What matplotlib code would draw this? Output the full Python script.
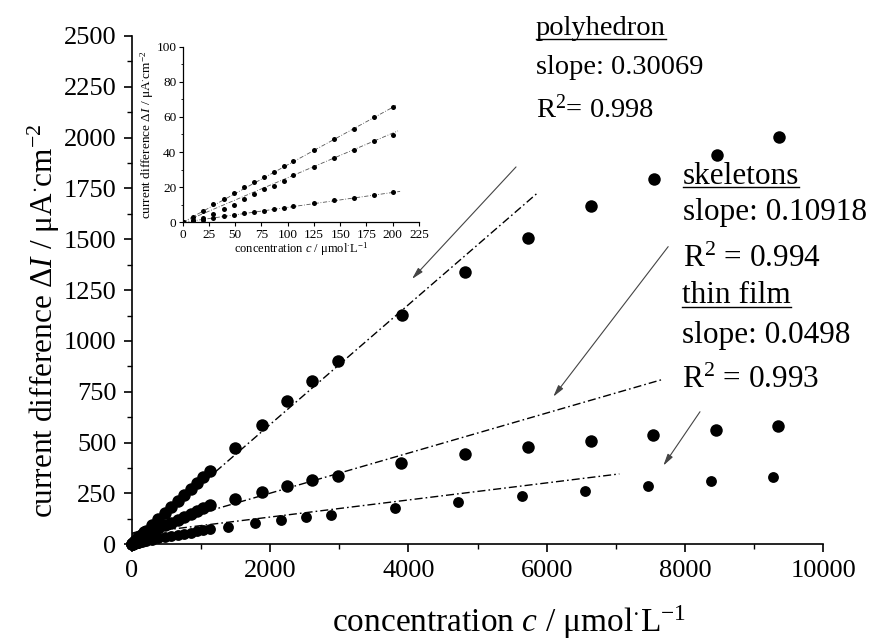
import matplotlib
matplotlib.use("Agg")
import matplotlib.pyplot as plt
from matplotlib.lines import Line2D

plt.rcParams['font.family'] = ['Liberation Serif', 'DejaVu Serif']
plt.rcParams['mathtext.fontset'] = 'custom'
plt.rcParams['mathtext.rm'] = 'Liberation Serif'
plt.rcParams['mathtext.it'] = 'Liberation Serif:italic'
plt.rcParams['mathtext.bf'] = 'Liberation Serif:bold'

# ---------------- data (main plot) ----------------
dense_x = [0, 10, 19, 29, 38, 48, 57, 67, 76, 86, 96, 105, 124, 143, 163, 182, 200,
           293, 386, 479, 572, 665, 758, 851, 944, 1037, 1132]
poly_x = dense_x + [1494, 1880, 2241, 2603, 2979, 3904, 4819, 5735, 6641, 7557, 8459, 9360]
poly_y = [0, 3, 6.6, 10, 13, 16.5, 20, 23, 26, 29, 32, 35, 41, 47, 53, 60, 65.5,
          95, 125, 155, 185, 214, 244, 273, 303, 332, 362] + \
         [472, 587, 705, 802, 902, 1128, 1341, 1508, 1665, 1795, 1915, 2002]
skel_x = dense_x + [1494, 1880, 2241, 2603, 2979, 3894, 4819, 5735, 6641, 7542, 8444, 9350]
skel_y = [0, 1.5, 2.5, 5, 7.5, 10, 13.3, 16, 18.8, 20.7, 23.5, 27, 31.5, 36.6, 41.4, 46.3, 50,
          64, 78, 93, 107, 121, 136, 150, 164, 179, 193] + \
         [223, 259, 288, 316, 337, 398, 443, 478, 510, 538, 562, 582]
thin_x = dense_x + [1397, 1783, 2154, 2520, 2877, 3807, 4723, 5640, 6554, 7470, 8372, 9277]
thin_y = [0, 0.8, 1.5, 2.5, 3.4, 4.3, 5.1, 5.9, 6.6, 7.5, 8.2, 9.1, 10.8, 12.5, 14, 15.5, 17,
          23, 29, 35, 41, 47, 52, 58, 63, 69, 74] + \
         [87, 103, 120, 133, 144, 180, 210, 238, 264, 288, 311, 333]

# fit lines as drawn (slope, intercept, x-end)
fit_slope = [0.2945, 0.0986, 0.042]
fit_icept = [0.0, 54.0, 50.0]
fit_xend = [5865, 7663, 7051]

# ---------------- data (inset) ----------------
in_x = [0, 10, 19, 29, 39, 49, 58, 68, 77.5, 87, 96, 105, 125, 144, 163, 182, 200]
in_poly = [0, 3.3, 6.6, 10.2, 13.3, 16.5, 20.3, 22.8, 26, 28.8, 32.3, 34.9, 41.2, 47.2, 53.3, 59.8, 65.5]
in_skel = [0, 1.2, 2.5, 5, 7.5, 10, 13.3, 16, 18.8, 20.7, 23.5, 27, 31.5, 36.6, 41.4, 46.3, 49.5]
in_thin = [0, 0.8, 1.5, 2.5, 3.4, 4.3, 5.1, 5.9, 6.6, 7.5, 8.2, 9.1, 10.8, 12.5, 14, 15.5, 17]
in_slope = [0.3275, 0.254, 0.085]
in_xend = [203, 205, 207]

W, H = 874, 642
fig = plt.figure(figsize=(W / 100, H / 100), dpi=100)

def fx(px):
    return px / W

def fy(py):
    return 1 - py / H

ax = fig.add_axes([fx(131.7), fy(544.3), fx(823.3) - fx(131.7), fy(36) - fy(544.3)])
ax.set_xlim(0, 10000)
ax.set_ylim(0, 2500)
for s in ['top', 'right']:
    ax.spines[s].set_visible(False)
for s in ['left', 'bottom']:
    ax.spines[s].set_linewidth(1.2)
ax.set_xticks(range(0, 10001, 2000))
ax.set_xticks(range(1000, 10000, 2000), minor=True)
ax.set_yticks(range(0, 2501, 250))
ax.set_yticks(range(125, 2500, 250), minor=True)
ax.tick_params(which='major', direction='out', length=6, width=1.2, labelsize=19, pad=5)
ax.tick_params(which='minor', direction='out', length=3.5, width=1.0)

dash = (0, (5.8, 2.2, 1.2, 2.2))
for s, b, xe in zip(fit_slope, fit_icept, fit_xend):
    ax.plot([0, xe], [b, s * xe + b], color='black', lw=1.0, linestyle=dash, zorder=2)

ax.plot(poly_x, poly_y, 'o', color='black', ms=9.0, mec='none', zorder=3, clip_on=False)
ax.plot(skel_x, skel_y, 'o', color='black', ms=9.0, mec='none', zorder=3, clip_on=False)
ax.plot(thin_x, thin_y, 'o', color='black', ms=7.8, mec='none', zorder=3, clip_on=False)

ax.set_xlabel(r'concentration $c$ / μmol$^{\cdot}$L$^{-1}$', fontsize=24)
ax.set_ylabel(r'current difference $\mathit{ΔI}$ / μA$^{\cdot}$cm$^{-2}$', fontsize=22.5)
ax.xaxis.set_label_coords(0.546, -0.1155)
ax.yaxis.set_label_coords(-0.1006, 0.44)

# arrows
arrows = [((5557, 1856), (4053, 1305)),
          ((7757, 1464), (6096, 726)),
          ((8217, 652), (7687, 387))]
for (x0, y0), (x1, y1) in arrows:
    ax.annotate('', xy=(x1, y1), xytext=(x0, y0),
                arrowprops=dict(arrowstyle='-|>,head_length=0.7,head_width=0.18',
                                color='#444444', lw=0.8, shrinkA=0, shrinkB=0))

# annotation texts (pixel baselines)
texts = [
    ('polyhedron', 536, 35, 20.5, True),
    ('slope: 0.30069', 536, 74, 20.5, False),
    (r'R$^{2}$= 0.998', 536, 118, 20.5, False),
    ('skeletons', 683, 184, 22.5, True),
    ('slope: 0.10918', 683, 220, 22.5, False),
    (r'R$^{2}$ = 0.994', 683, 267, 22.5, False),
    ('thin film', 682, 303, 22.5, True),
    ('slope: 0.0498', 682, 343, 22.5, False),
    (r'R$^{2}$ = 0.993', 682, 388, 22.5, False),
]
txt_objs = []
for t, px, py, fs, ul in texts:
    o = fig.text(fx(px), fy(py), t, fontsize=fs, ha='left', va='baseline')
    txt_objs.append((o, ul))

# ---------------- inset ----------------
axi = fig.add_axes([fx(182.7), fy(222.3), fx(419) - fx(182.7), fy(46.7) - fy(222.3)])
axi.set_xlim(0, 225)
axi.set_ylim(0, 100)
for s in ['top', 'right']:
    axi.spines[s].set_visible(False)
for s in ['left', 'bottom']:
    axi.spines[s].set_linewidth(0.9)
axi.set_xticks(range(0, 226, 25))
axi.set_yticks(range(0, 101, 20))
axi.set_yticks(range(10, 100, 20), minor=True)
axi.tick_params(which='major', direction='out', length=3, width=0.8, labelsize=9.5, pad=1.5)
axi.tick_params(which='minor', direction='out', length=1.8, width=0.6)
for s, xe in zip(in_slope, in_xend):
    axi.plot([0, xe], [0, s * xe], color='#555555', lw=0.6, linestyle=(0, (5, 2, 1, 2)), zorder=2)
for ys in (in_poly, in_skel, in_thin):
    axi.plot(in_x, ys, 'o', color='black', ms=3.6, mec='none', zorder=3)
axi.set_xlabel(r'concentration $c$ / μmol$^{\cdot}$L$^{-1}$', fontsize=9, labelpad=0)
axi.set_ylabel(r'current difference $\mathit{ΔI}$ / μA$^{\cdot}$cm$^{-2}$', fontsize=9.5, labelpad=0)

# underlines
fig.canvas.draw()
r = fig.canvas.get_renderer()
for o, ul in txt_objs:
    if ul:
        bb = o.get_window_extent(renderer=r)
        x0, x1 = bb.x0, bb.x1
        yb = o.get_position()[1] * H - 3.5
        fig.add_artist(Line2D([x0 / W, x1 / W], [yb / H, yb / H], color='black', lw=1.0,
                              transform=fig.transFigure))

fig.savefig('out.png', dpi=100)
